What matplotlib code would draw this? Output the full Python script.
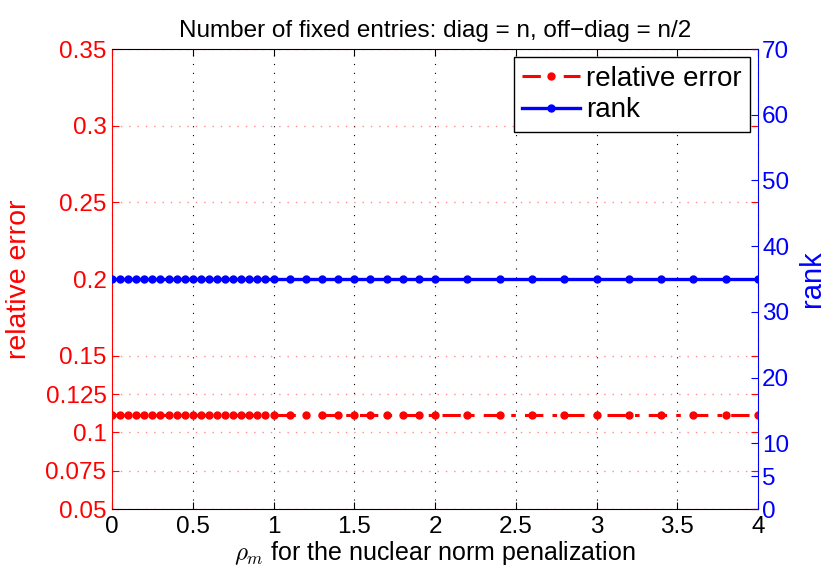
import matplotlib
matplotlib.use("Agg")
from matplotlib import pyplot as plt

plt.rcParams['font.family'] = ['Liberation Sans', 'DejaVu Sans']
plt.rcParams['mathtext.fontset'] = 'cm'

# penalization values (x axis)
rho = [0.0, 0.05, 0.1, 0.15, 0.2, 0.25, 0.3, 0.35, 0.4, 0.45,
       0.5, 0.55, 0.6, 0.65, 0.7, 0.75, 0.8, 0.85, 0.9, 0.95,
       1.0, 1.1, 1.2, 1.3, 1.4, 1.5, 1.6, 1.7, 1.8, 1.9,
       2.0, 2.2, 2.4, 2.6, 2.8, 3.0, 3.2, 3.4, 3.6, 3.8, 4.0]
rel_err = [0.111, 0.111, 0.111, 0.111, 0.111, 0.111, 0.111, 0.111, 0.111, 0.111,
           0.111, 0.111, 0.111, 0.111, 0.111, 0.111, 0.111, 0.111, 0.111, 0.111,
           0.111, 0.111, 0.111, 0.111, 0.111, 0.111, 0.111, 0.111, 0.111, 0.111,
           0.111, 0.111, 0.111, 0.111, 0.111, 0.111, 0.111, 0.111, 0.111, 0.111, 0.111]
rank = [35, 35, 35, 35, 35, 35, 35, 35, 35, 35,
        35, 35, 35, 35, 35, 35, 35, 35, 35, 35,
        35, 35, 35, 35, 35, 35, 35, 35, 35, 35,
        35, 35, 35, 35, 35, 35, 35, 35, 35, 35, 35]

xticks = [0, 0.5, 1, 1.5, 2, 2.5, 3, 3.5, 4]
err_ticks = [0.05, 0.075, 0.1, 0.125, 0.15, 0.2, 0.25, 0.3, 0.35]
rank_ticks = [0, 5, 10, 20, 30, 40, 50, 60, 70]

fig = plt.figure(figsize=(8.28, 5.70), dpi=100)
ax = fig.add_axes([0.1353, 0.107, 0.7802, 0.807])
ax2 = ax.twinx()

l1, = ax.plot(rho, rel_err, '-.', color='red', lw=2.2, marker='o', ms=5,
              dashes=(6, 3, 1.5, 3), label='relative error')
l2, = ax2.plot(rho, rank, '-', color='blue', lw=2.4, marker='o', ms=5,
               label='rank')

ax.set_xlim(0, 4)
ax.set_ylim(0.05, 0.35)
ax2.set_ylim(0, 70)

ax.set_xticks(xticks)
ax.set_xticklabels(['%g' % t for t in xticks])
ax.set_yticks(err_ticks)
ax.set_yticklabels(['%g' % t for t in err_ticks])
ax2.set_yticks(rank_ticks)
ax2.set_yticklabels(['%g' % t for t in rank_ticks])

# grid: sparse black dots for verticals, faint red dots for horizontals
ax.grid(axis='x', color='k', linewidth=0.8, dashes=(1, 7))
ax.grid(axis='y', color='red', alpha=0.45, linewidth=1.0, dashes=(1, 5))

ax.tick_params(axis='x', direction='in', top=True, length=5, labelsize=17.5,
               colors='k', pad=5)
ax.tick_params(axis='y', direction='in', right=True, length=5, labelsize=17.5,
               colors='red', pad=4)
ax2.tick_params(axis='y', direction='in', length=5, labelsize=17.5,
                colors='blue', pad=3)

ax.spines['left'].set_color('red')
ax.spines['right'].set_visible(False)
ax2.spines['left'].set_visible(False)
ax2.spines['top'].set_visible(False)
ax2.spines['bottom'].set_visible(False)
ax2.spines['right'].set_color('blue')

ax.set_ylabel('relative error', color='red', fontsize=20.5, labelpad=10)
ax2.set_ylabel('rank', color='blue', fontsize=21, labelpad=6)
ax.set_xlabel(r'$\rho_m$ for the nuclear norm penalization', fontsize=18, labelpad=1)
ax.set_title('Number of fixed entries: diag = n, off\u2212diag = n/2', fontsize=17.5, pad=9)

leg = ax2.legend(handles=[l1, l2], loc='upper right', fontsize=20,
                 fancybox=False, edgecolor='k', framealpha=1,
                 handlelength=2.1, handletextpad=0.2, borderpad=0.3,
                 labelspacing=0.2, borderaxespad=0.3)
leg.get_frame().set_linewidth(1.0)

fig.savefig('out.png', dpi=100)
